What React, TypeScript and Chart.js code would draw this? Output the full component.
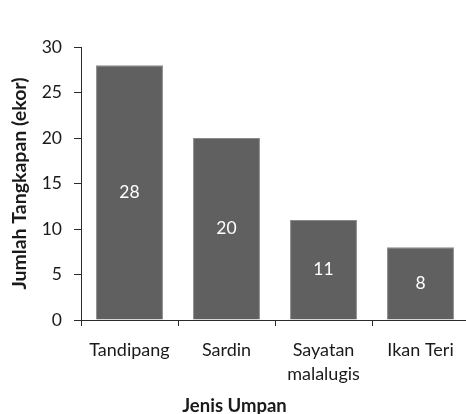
import React, { useEffect, useRef } from "react";
import { Chart, registerables } from "chart.js";

Chart.register(...registerables);

const categories: (string | string[])[] = ["Tandipang", "Sardin", ["Sayatan", "malalugis"], "Ikan Teri"];
const catchCounts: number[] = [28, 20, 11, 8];
const yTickMin = 0;
const yTickMax = 30;
const yTickStep = 5;
const xTitle = "Jenis Umpan";
const yTitle = "Jumlah Tangkapan (ekor)";

const FONT = "Lato, 'Open Sans', sans-serif";
const TEXT = "#1a1a1a";
const AXIS = "#2a2a2a";

const valueLabels = {
  id: "valueLabels",
  afterDatasetsDraw(chart: any) {
    const ctx = chart.ctx;
    const meta = chart.getDatasetMeta(0);
    const ds = chart.data.datasets[0];
    ctx.save();
    ctx.fillStyle = "#ffffff";
    ctx.font = `17.5px ${FONT}`;
    ctx.textAlign = "center";
    ctx.textBaseline = "middle";
    meta.data.forEach((bar: any, i: number) => {
      const { x, y, base } = bar.getProps(["x", "y", "base"], true);
      ctx.fillText(String(ds.data[i]), x, (y + base) / 2);
    });
    ctx.restore();
  },
};

const TITLE_SIZE = 18.5;
const TITLE_LH = 0.9;

export default function App() {
  const ref = useRef<HTMLCanvasElement | null>(null);
  useEffect(() => {
    if (!ref.current) return;
    const chart = new Chart(ref.current, {
      type: "bar",
      data: {
        labels: categories,
        datasets: [
          {
            data: catchCounts,
            backgroundColor: "#606060",
            borderColor: "#8a8a8a",
            borderWidth: 1,
            barPercentage: 0.69,
            categoryPercentage: 1,
          },
        ],
      },
      options: {
        animation: false,
        responsive: false,
        maintainAspectRatio: false,
        layout: { padding: { top: 47, right: 11, left: 0, bottom: 0 } },
        plugins: {
          legend: { display: false },
          tooltip: { enabled: false },
          title: {
            display: true,
            text: xTitle,
            position: "bottom",
            color: TEXT,
            font: { family: FONT, size: TITLE_SIZE, weight: "bold", lineHeight: TITLE_LH },
            padding: 0,
          },
        },
        scales: {
          x: {
            grid: {
              display: true,
              drawOnChartArea: false,
              drawTicks: true,
              tickLength: 6,
              color: AXIS,
              offset: true,
            },
            border: { display: true, color: AXIS, width: 1 },
            ticks: {
              color: TEXT,
              font: { family: FONT, size: 18, lineHeight: 24 / 18 },
              padding: 12,
              maxRotation: 0,
              autoSkip: false,
            },
            afterFit: (s: any) => {
              s.height = 414 - TITLE_SIZE * TITLE_LH - 320;
            },
          },
          y: {
            min: yTickMin,
            max: yTickMax,
            grid: {
              display: true,
              drawOnChartArea: false,
              drawTicks: true,
              tickLength: 7,
              color: AXIS,
            },
            border: { display: true, color: AXIS, width: 1 },
            ticks: {
              stepSize: yTickStep,
              color: TEXT,
              font: { family: FONT, size: 17.5 },
              padding: 12,
            },
            title: {
              display: true,
              text: yTitle,
              color: TEXT,
              font: { family: FONT, size: 19.5, weight: "bold", lineHeight: 1.2 },
              padding: { top: 8, bottom: 0 },
            },
            afterFit: (s: any) => {
              s.width = 81;
            },
          },
        },
      },
      plugins: [valueLabels],
    });
    return () => chart.destroy();
  }, []);
  return (
    <div
      style={{
        position: "fixed",
        left: 0,
        top: 0,
        width: 466,
        height: 414,
        overflow: "hidden",
        background: "#ffffff",
      }}
    >
      <canvas ref={ref} width={480} height={414} style={{ display: "block", width: 480, height: 414 }} />
    </div>
  );
}
